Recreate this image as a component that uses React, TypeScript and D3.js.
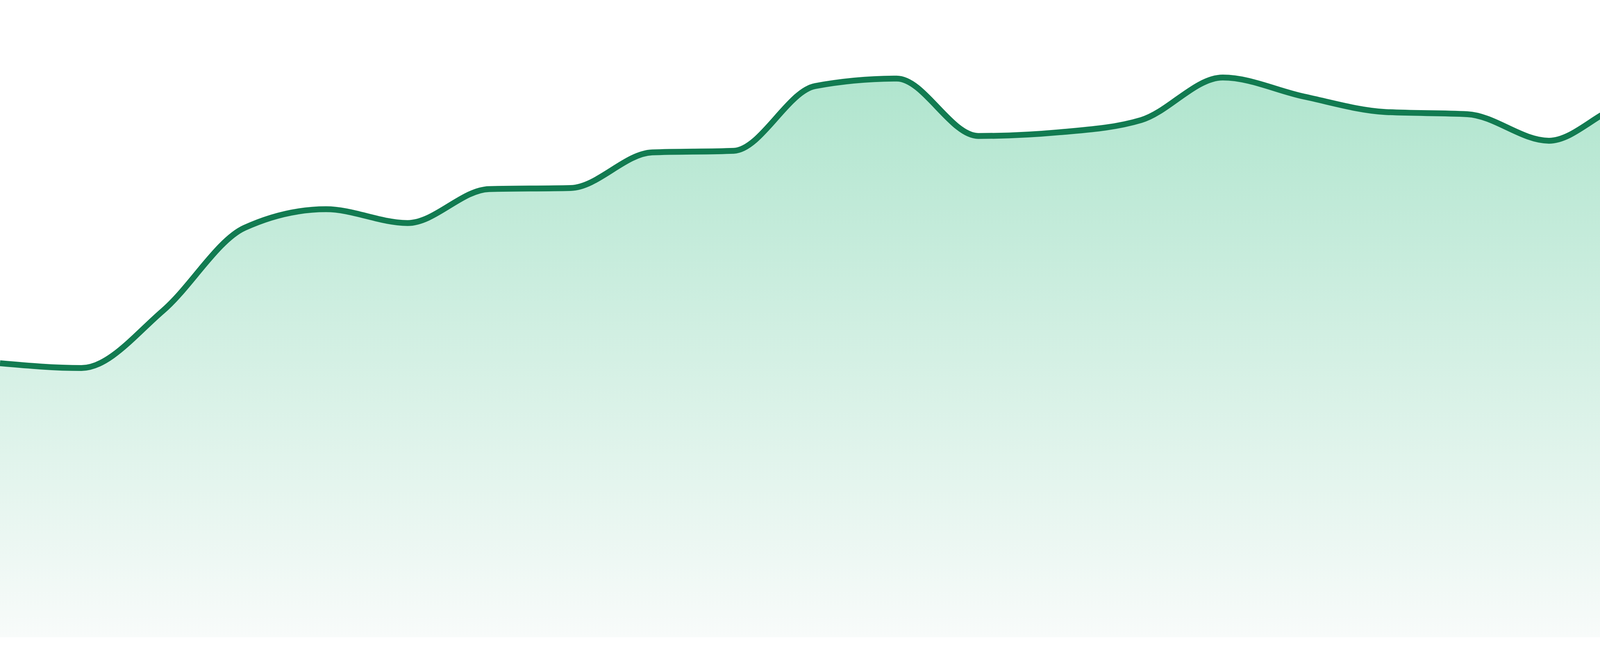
import { useEffect, useRef } from 'react';
import * as d3 from 'd3';

// one reading per period, evenly spaced across the width
const periods = d3.range(24).map((i) => `P${i + 1}`);
const values = [
  51.6, 50.7, 61.5, 77.1, 80.6, 78.0, 84.4, 84.6, 91.3, 91.6, 103.8, 105.2,
  94.4, 95.1, 97.4, 105.4, 101.8, 98.9, 98.5, 93.5, 100.3, 92.8, 97.3, 88.1,
];

const W = 4800;
const H = 1680;

export default function App() {
  const ref = useRef<SVGSVGElement>(null);

  useEffect(() => {
    document.body.style.margin = '0';
    document.body.style.overflow = 'hidden';
    if (!ref.current) return;
    const svg = d3.select(ref.current);
    svg.selectAll('*').remove();

    const margin = { top: 0, right: 0, bottom: 48, left: 0 };
    const innerH = H - margin.top - margin.bottom;

    const x = d3.scalePoint().domain(periods).range([0, W]);
    const y = d3.scaleLinear().domain([0, 120]).range([innerH, 0]);

    const data = periods.map((p, i) => ({ p, v: values[i] }));

    const defs = svg.append('defs');
    const grad = defs
      .append('linearGradient')
      .attr('id', 'areaGrad')
      .attr('x1', '0%')
      .attr('y1', '0%')
      .attr('x2', '0%')
      .attr('y2', '100%');
    grad.append('stop').attr('offset', '0%').attr('stop-color', '#b0e5ce');
    grad.append('stop').attr('offset', '100%').attr('stop-color', '#f8fbfa');

    const g = svg.append('g').attr('transform', `translate(${margin.left},${margin.top})`);

    const area = d3
      .area<{ p: string; v: number }>()
      .x((d) => x(d.p) ?? 0)
      .y0(innerH)
      .y1((d) => y(d.v))
      .curve(d3.curveMonotoneX);

    const line = d3
      .line<{ p: string; v: number }>()
      .x((d) => x(d.p) ?? 0)
      .y((d) => y(d.v))
      .curve(d3.curveMonotoneX);

    g.append('path').datum(data).attr('fill', 'url(#areaGrad)').attr('d', area);
    g.append('path')
      .datum(data)
      .attr('fill', 'none')
      .attr('stroke', '#127b51')
      .attr('stroke-width', 15)
      .attr('stroke-linejoin', 'round')
      .attr('d', line);
  }, []);

  return <svg ref={ref} width={W} height={H} style={{ display: 'block', background: '#fff' }} />;
}
